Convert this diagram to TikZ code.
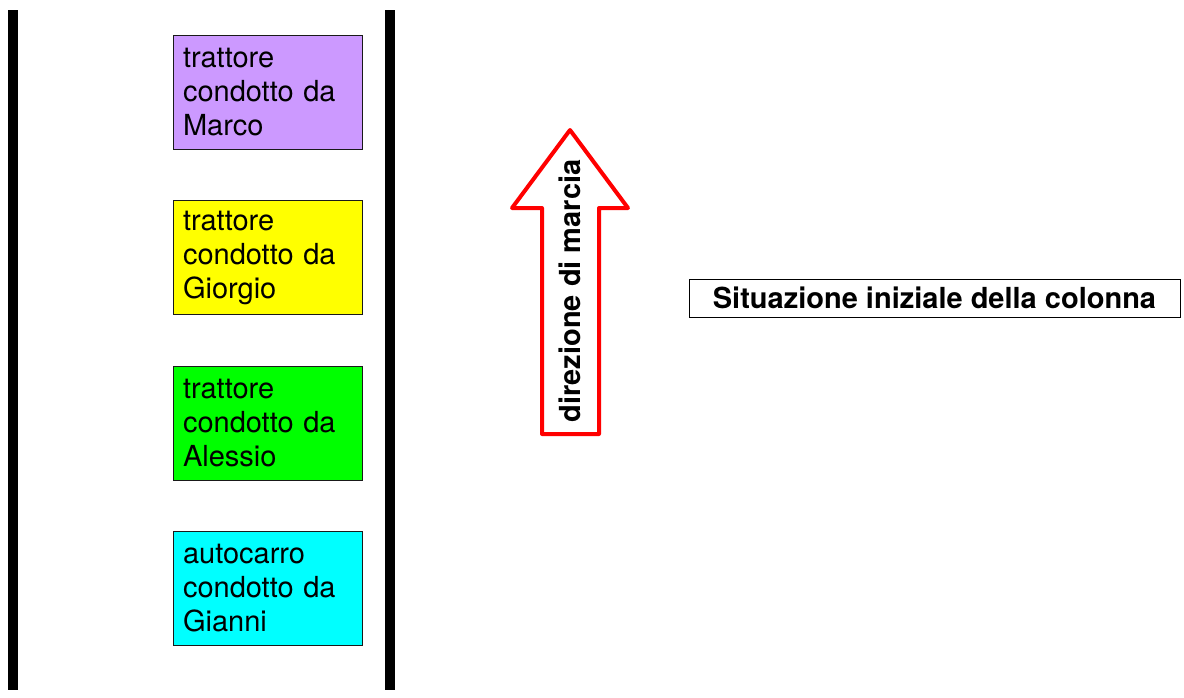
\documentclass[tikz,border=0pt]{standalone}
\usepackage{fontspec}
\setmainfont{TeX Gyre Heros}
\usetikzlibrary{positioning}

\definecolor{lilla}{RGB}{204,153,255}
\definecolor{giallo}{RGB}{255,255,0}
\definecolor{verde}{RGB}{0,255,0}
\definecolor{ciano}{RGB}{0,255,255}

\begin{document}
\begin{tikzpicture}[
	x=1pt, y=-1pt,
	wall/.style={fill=black, draw=none},
	vehicle/.style={draw=black!90, line width=1pt, outer sep=0pt, anchor=north west, minimum width=189pt, minimum height=114pt, text width=169pt, inner xsep=10pt, align=left, font=\fontsize{29}{34}\selectfont},
	marcia/.style={draw=red, line width=4pt, line join=round, fill=white},
	caption/.style={draw=black, line width=1pt, minimum width=491pt, minimum height=38pt, font=\bfseries\fontsize{29}{34}\selectfont},
]
\useasboundingbox (0,0) rectangle (1184,697);

%%% STRADA
\fill [wall] (8,10) rectangle (18,690);
\fill [wall] (385,10) rectangle (395,690);

%%% COLONNA
\node [vehicle, fill=lilla] (marco) at (173,35) {trattore\\condotto da\\Marco};
\node [vehicle, fill=giallo, below=51.5pt of marco.south west, anchor=north west] (giorgio) {trattore\\condotto da\\Giorgio};
\node [vehicle, fill=verde, below=51.5pt of giorgio.south west, anchor=north west] (alessio) {trattore\\condotto da\\Alessio};
\node [vehicle, fill=ciano, below=51.5pt of alessio.south west, anchor=north west] (gianni) {autocarro\\condotto da\\Gianni};

%%% DIREZIONE
\draw [marcia] (570,130) -- (628,208) -- (599,208) -- (599,434) -- (542,434) -- (542,208) -- (512,208) -- cycle;
\node [rotate=90, font=\bfseries\fontsize{29}{34}\selectfont] (direzione) at (570,291) {direzione di marcia};

\node [caption] (situazione) at (934.5,298) {Situazione iniziale della colonna};

\end{tikzpicture}
\end{document}
